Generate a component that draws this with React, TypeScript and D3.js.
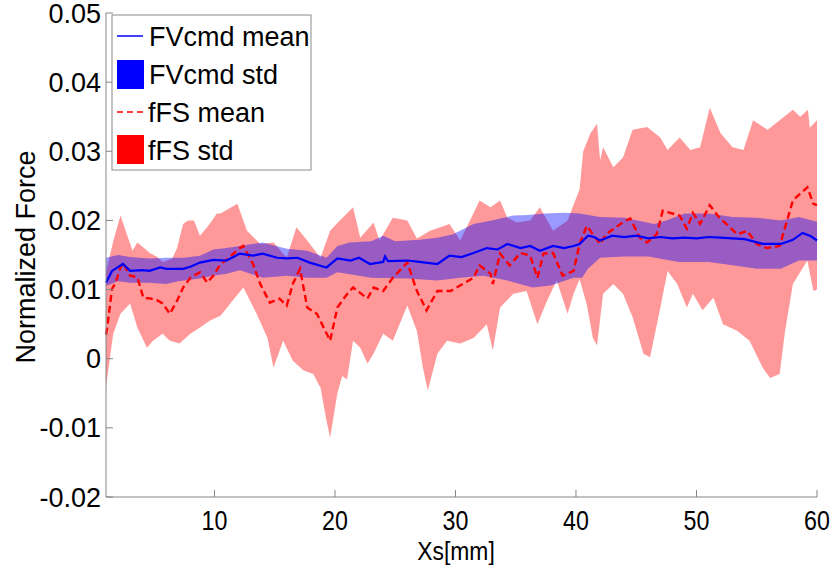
import React from "react";
import * as d3 from "d3";

// ---- data ----
const xTicks = [10, 20, 30, 40, 50, 60];
const yTicks = [-0.02, -0.01, 0, 0.01, 0.02, 0.03, 0.04, 0.05];
const yTickLabels = ["-0.02", "-0.01", "0", "0.01", "0.02", "0.03", "0.04", "0.05"];
const legendLabels = ["FVcmd mean", "FVcmd std", "fFS mean", "fFS std"];

const blueMean: [number, number][] = [
  [1.0, 0.011], [1.5, 0.0127], [2.4, 0.0137], [3.0, 0.0127], [4.0, 0.0128], [4.6, 0.0127],
  [5.5, 0.0132], [6.0, 0.013], [7.4, 0.013], [8.0, 0.0133], [8.8, 0.0139], [9.9, 0.0143],
  [11.0, 0.0142], [12.1, 0.0152], [13.2, 0.0149], [14.0, 0.0152], [15.2, 0.0146], [16.0, 0.0145],
  [16.9, 0.0146], [17.9, 0.0139], [19.3, 0.0132], [20.2, 0.0145], [21.3, 0.0142], [22.0, 0.0146],
  [22.9, 0.0137], [24.0, 0.014], [24.15, 0.0148], [24.4, 0.0141], [26.0, 0.0142], [27.0, 0.014],
  [28.5, 0.0137], [29.5, 0.0149], [30.5, 0.0147], [31.5, 0.0153], [32.6, 0.016], [33.5, 0.0158],
  [34.3, 0.0166], [35.4, 0.016], [36.2, 0.0163], [37.0, 0.0156], [38.1, 0.0163], [39.0, 0.016],
  [39.8, 0.0163], [40.3, 0.0166], [41.0, 0.0178], [41.5, 0.0176], [42.0, 0.0171], [43.0, 0.0178],
  [44.0, 0.0176], [45.0, 0.0178], [46.0, 0.0174], [47.0, 0.0176], [48.0, 0.0174], [49.0, 0.0175],
  [50.0, 0.0174], [51.0, 0.0176], [52.0, 0.0175], [53.0, 0.0174], [54.0, 0.0173], [55.5, 0.0166],
  [57.0, 0.0166], [58.0, 0.0172], [58.8, 0.0182], [59.5, 0.0177], [60.0, 0.0171],
];

const blueUpper: [number, number][] = [
  [1.0, 0.0146], [2.0, 0.015], [3.0, 0.0147], [4.6, 0.0145], [6.0, 0.0146], [7.4, 0.0146],
  [8.8, 0.0149], [9.9, 0.0158], [11.0, 0.016], [12.1, 0.0163], [14.0, 0.0168], [16.0, 0.0159],
  [17.7, 0.0156], [19.3, 0.0146], [20.2, 0.0163], [21.2, 0.0168], [23.0, 0.017], [24.0, 0.0178],
  [25.0, 0.017], [27.0, 0.0172], [28.5, 0.0175], [29.8, 0.018], [31.5, 0.0195], [33.0, 0.02],
  [34.8, 0.0207], [36.0, 0.0208], [37.5, 0.021], [39.0, 0.0211], [40.3, 0.021], [42.0, 0.0205],
  [44.0, 0.0204], [46.5, 0.0195], [47.5, 0.02], [49.0, 0.021], [51.0, 0.021], [53.0, 0.0205],
  [55.0, 0.0204], [57.0, 0.02], [58.5, 0.0205], [60.0, 0.0198],
];

const blueLower: [number, number][] = [
  [1.0, 0.0105], [2.0, 0.0112], [3.0, 0.011], [4.6, 0.011], [6.0, 0.0108], [7.0, 0.0112],
  [8.8, 0.0116], [9.9, 0.012], [11.0, 0.0123], [12.1, 0.0128], [14.0, 0.0117], [16.0, 0.012],
  [17.7, 0.0117], [19.3, 0.0117], [20.2, 0.0125], [23.0, 0.0117], [26.0, 0.0116], [28.5, 0.0113],
  [30.4, 0.0117], [32.3, 0.012], [34.3, 0.0113], [36.4, 0.0103], [37.9, 0.0106], [39.8, 0.0117],
  [40.5, 0.0117], [41.0, 0.013], [42.0, 0.0146], [44.0, 0.0148], [46.0, 0.0148], [48.5, 0.014],
  [51.0, 0.014], [53.0, 0.0135], [55.0, 0.013], [57.0, 0.013], [58.5, 0.0142], [60.0, 0.0142],
];

const redMean: [number, number][] = [
  [1.0, 0.0035], [1.1, 0.0045], [1.5, 0.0101], [1.8, 0.011], [2.2, 0.0132], [2.4, 0.0139],
  [3.0, 0.012], [3.6, 0.0118], [4.1, 0.0088], [4.7, 0.0087], [5.2, 0.0085], [5.7, 0.008],
  [6.1, 0.007], [6.3, 0.0065], [6.9, 0.0084], [7.4, 0.0103], [8.0, 0.0117], [8.8, 0.0125],
  [9.4, 0.011], [9.9, 0.012], [10.5, 0.0137], [11.0, 0.0143], [12.1, 0.016], [12.4, 0.0163],
  [13.2, 0.0137], [13.8, 0.0108], [14.6, 0.0081], [15.4, 0.0087], [16.0, 0.0077], [16.5, 0.0108],
  [17.1, 0.013], [17.7, 0.0074], [18.5, 0.0065], [19.6, 0.0026], [20.2, 0.0074], [20.9, 0.0091],
  [21.5, 0.0103], [22.7, 0.0087], [23.2, 0.0103], [24.0, 0.0098], [24.8, 0.0117], [26.0, 0.0139],
  [26.8, 0.0098], [27.6, 0.007], [28.5, 0.0098], [29.6, 0.0098], [30.6, 0.0108], [31.5, 0.0117],
  [32.0, 0.0135], [32.9, 0.0123], [33.1, 0.0108], [33.7, 0.0152], [34.5, 0.0135], [35.4, 0.0153],
  [36.2, 0.0149], [36.8, 0.0117], [37.3, 0.0152], [38.1, 0.0153], [38.9, 0.012], [39.8, 0.0127],
  [40.3, 0.0166], [40.9, 0.0192], [42.0, 0.0166], [42.5, 0.018], [43.7, 0.0195], [44.5, 0.0203],
  [45.3, 0.0175], [45.9, 0.0168], [46.7, 0.018], [47.2, 0.0214], [48.6, 0.0207], [49.2, 0.0188],
  [49.7, 0.0211], [50.3, 0.0195], [51.1, 0.0222], [51.9, 0.0204], [53.4, 0.018], [54.2, 0.0185],
  [55.0, 0.0166], [55.8, 0.016], [56.9, 0.0163], [58.0, 0.0229], [59.2, 0.0248], [59.7, 0.0224],
  [60.0, 0.0222],
];

const redUpper: [number, number][] = [
  [1.0, 0.0125], [1.6, 0.017], [2.2, 0.0207], [3.2, 0.0156], [3.6, 0.0168], [4.7, 0.0152],
  [5.2, 0.0148], [5.7, 0.014], [6.5, 0.0145], [6.9, 0.016], [7.4, 0.0195], [7.8, 0.02],
  [8.3, 0.02], [8.8, 0.0178], [9.6, 0.0195], [10.2, 0.021], [10.5, 0.021], [11.9, 0.0224],
  [12.7, 0.0185], [13.8, 0.0166], [14.9, 0.0168], [16.0, 0.0146], [16.8, 0.019], [17.7, 0.0171],
  [18.8, 0.0146], [19.6, 0.0185], [20.4, 0.02], [21.0, 0.021], [21.5, 0.0219], [22.1, 0.0175],
  [23.2, 0.0197], [23.7, 0.0171], [24.8, 0.0204], [26.0, 0.02], [26.8, 0.0174], [27.9, 0.0185],
  [29.5, 0.0195], [30.4, 0.0171], [32.0, 0.0229], [32.9, 0.0219], [33.7, 0.0229], [34.3, 0.0204],
  [35.1, 0.0197], [36.2, 0.02], [37.0, 0.0219], [38.1, 0.0185], [39.3, 0.02], [40.3, 0.0245],
  [40.6, 0.03], [41.2, 0.0326], [41.75, 0.034], [42.0, 0.0287], [42.25, 0.0306], [43.1, 0.0277],
  [43.9, 0.0291], [44.7, 0.0331], [45.9, 0.0335], [47.0, 0.032], [47.6, 0.0302], [48.6, 0.032],
  [49.5, 0.0302], [50.3, 0.0306], [51.1, 0.0363], [52.0, 0.0326], [53.0, 0.0306], [53.9, 0.0302],
  [54.7, 0.0345], [55.9, 0.0331], [56.9, 0.0345], [58.0, 0.036], [58.6, 0.035], [59.25, 0.036],
  [59.4, 0.0334], [60.0, 0.0345],
];

const redLower: [number, number][] = [
  [1.0, -0.004], [1.1, -0.0028], [1.6, 0.0036], [2.2, 0.0065], [3.0, 0.008], [3.6, 0.0045],
  [4.4, 0.0016], [4.9, 0.0026], [5.7, 0.0036], [6.3, 0.0026], [7.1, 0.0022], [8.0, 0.0036],
  [8.8, 0.0045], [9.6, 0.0055], [10.5, 0.0062], [11.5, 0.0084], [12.4, 0.0103], [13.5, 0.0065],
  [14.4, 0.003], [14.9, -0.0013], [15.7, 0.0026], [16.5, -0.0003], [17.4, -0.0017], [18.2, -0.0022],
  [18.8, -0.0042], [19.3, -0.009], [19.6, -0.0114], [20.2, -0.005], [20.6, -0.0025], [21.0, -0.003],
  [21.5, 0.0026], [22.1, 0.0016], [22.7, -0.0007], [23.2, 0.0007], [24.0, 0.0036], [24.8, 0.0026],
  [26.0, 0.0077], [26.8, 0.004], [27.3, -0.0013], [27.7, -0.0046], [28.5, 0.0007], [29.3, 0.0026],
  [30.4, 0.0022], [31.5, 0.003], [32.6, 0.005], [33.1, 0.0012], [33.7, 0.0074], [34.8, 0.0094],
  [35.9, 0.0098], [36.8, 0.005], [37.6, 0.0084], [38.4, 0.0113], [39.3, 0.0065], [39.8, 0.0094],
  [40.3, 0.0115], [40.9, 0.0078], [41.4, 0.003], [41.75, 0.0019], [42.25, 0.0094], [43.1, 0.0108],
  [43.9, 0.0094], [44.7, 0.006], [45.6, 0.0007], [46.15, 0.0002], [47.0, 0.0074], [47.6, 0.0127],
  [48.4, 0.0108], [49.2, 0.0074], [49.7, 0.0094], [50.5, 0.007], [51.4, 0.0088], [52.2, 0.005],
  [53.4, 0.004], [54.4, 0.0026], [55.5, -0.0013], [56.1, -0.0028], [56.9, -0.0022], [57.35, 0.004],
  [58.0, 0.0108], [59.2, 0.0142], [59.7, 0.0098], [60.0, 0.01],
];

// ---- layout ----
const W = 833;
const H = 570;
const plot = { left: 106, right: 817, top: 13, bottom: 497 };
const FONT = "'Liberation Sans', Arial, Helvetica, sans-serif";
const FS = 27;
const AXIS_COLOR = "#858585";

export default function App() {
  const x = d3.scaleLinear().domain([1, 60]).range([plot.left, plot.right]);
  const y = d3.scaleLinear().domain([-0.02, 0.05]).range([plot.bottom, plot.top]);

  const line = d3
    .line<[number, number]>()
    .x((d) => x(d[0]))
    .y((d) => y(d[1]));

  const band = (up: [number, number][], lo: [number, number][]) =>
    (line([...up, ...lo.slice().reverse()]) || "") + "Z";

  return (
    <svg
      width={W}
      height={H}
      style={{ position: "absolute", left: 0, top: 0, background: "#fff" }}
      fontFamily={FONT}
    >
      <rect x={0} y={0} width={W} height={H} fill="#fff" />
      {/* bands */}
      <path d={band(redUpper, redLower)} fill="#ff0000" fillOpacity={0.4} stroke="none" />
      <path d={band(blueUpper, blueLower)} fill="#0000ff" fillOpacity={0.4} stroke="none" />
      {/* means */}
      <path d={line(redMean) || ""} fill="none" stroke="#ff0000" strokeWidth={2.4} strokeDasharray="7,4" />
      <path d={line(blueMean) || ""} fill="none" stroke="#0000ff" strokeWidth={2.2} />

      {/* axes */}
      <line x1={plot.left} x2={plot.left} y1={plot.top} y2={plot.bottom} stroke={AXIS_COLOR} strokeWidth={1} />
      <line x1={plot.left} x2={plot.right} y1={plot.bottom} y2={plot.bottom} stroke={AXIS_COLOR} strokeWidth={1} />
      {xTicks.map((t) => (
        <g key={"xt" + t}>
          <line x1={x(t)} x2={x(t)} y1={plot.bottom} y2={plot.bottom - 7} stroke={AXIS_COLOR} />
          <text
            transform={`translate(${x(t)},530) scale(0.86,1.05)`}
            textAnchor="middle"
            fontSize={FS}
            fill="#000"
          >
            {t}
          </text>
        </g>
      ))}
      {yTicks.map((t, i) => (
        <g key={"yt" + i}>
          <line x1={plot.left} x2={plot.left + 7} y1={y(t)} y2={y(t)} stroke={AXIS_COLOR} />
          <text x={101} y={y(t) + 9.5} textAnchor="end" fontSize={FS} fill="#000">
            {yTickLabels[i]}
          </text>
        </g>
      ))}
      <text transform="translate(456,560) scale(0.88,1)" textAnchor="middle" fontSize={26} fill="#000">
        Xs[mm]
      </text>
      <text transform="translate(35,257) rotate(-90)" textAnchor="middle" fontSize={FS} fill="#000">
        Normalized Force
      </text>

      {/* legend */}
      <rect x={112} y={15} width={199} height={155} fill="#fff" stroke="#8a8a8a" strokeWidth={1} />
      <line x1={117} x2={143} y1={36} y2={36} stroke="#0000ff" strokeWidth={1.5} />
      <text x={149} y={46} fontSize={FS} fill="#000">{legendLabels[0]}</text>
      <rect x={117} y={60} width={27} height={29} fill="#0000ff" />
      <text x={149} y={84} fontSize={FS} fill="#000">{legendLabels[1]}</text>
      <line x1={117} x2={143} y1={112} y2={112} stroke="#ff0000" strokeWidth={1.5} strokeDasharray="6,4" />
      <text x={148} y={122} fontSize={FS} fill="#000">{legendLabels[2]}</text>
      <rect x={117} y={135} width={27} height={29} fill="#ff0000" />
      <text x={148} y={160} fontSize={FS} fill="#000">{legendLabels[3]}</text>
    </svg>
  );
}
